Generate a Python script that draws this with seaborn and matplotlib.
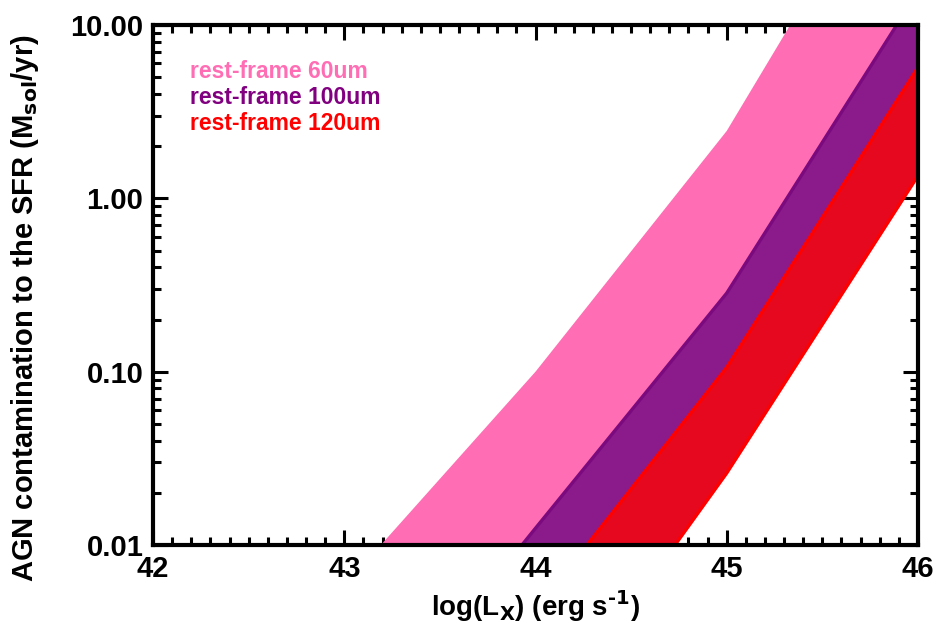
import numpy as np
import pandas as pd
import matplotlib
matplotlib.use("Agg")
import matplotlib.pyplot as plt
import seaborn as sns
from matplotlib.ticker import FixedLocator, LogLocator, NullFormatter, MultipleLocator

# log(L_X) grid and AGN contamination bounds (Msol/yr) for each rest-frame band
log_lx = [43.0, 44.0, 45.0, 46.0]
sfr_60_hi = [0.0058, 0.10, 2.45, 170.0]
sfr_60_lo = [0.00054, 0.0125, 0.284, 15.6]
sfr_100_hi = [0.00054, 0.0125, 0.284, 15.6]
sfr_100_lo = [0.00016, 0.0042, 0.106, 5.7]
sfr_120_hi = [0.00016, 0.0042, 0.106, 5.7]
sfr_120_lo = [0.00002, 0.00076, 0.026, 1.35]

band_labels = ["rest-frame 60um", "rest-frame 100um", "rest-frame 120um"]
y_ticks = [0.01, 0.1, 1.0, 10.0]
y_ticklabels = ["0.01", "0.10", "1.00", "10.00"]
x_ticks = [42, 43, 44, 45, 46]

sns.set_theme(style="ticks")
plt.rcParams["font.family"] = ["Liberation Sans", "DejaVu Sans"]
plt.rcParams["font.weight"] = "bold"
plt.rcParams["mathtext.default"] = "bf"
for key in ["text.color", "axes.labelcolor", "xtick.color", "ytick.color", "axes.edgecolor"]:
    plt.rcParams[key] = "black"

fig = plt.figure(figsize=(9.39, 6.26), dpi=100)
ax = fig.add_axes([0.163, 0.1294, 0.8146, 0.8306])

pink = "#FF6EB4"
purple_fill = "#8B1A8B"
purple_edge = "#7A0A7E"
red_fill = "#E6081E"
red_edge = "#FF0000"

ax.fill_between(log_lx, sfr_60_lo, sfr_60_hi, color=pink, lw=0, zorder=1)
ax.fill_between(log_lx, sfr_100_lo, sfr_100_hi, color=purple_fill, lw=0, zorder=2)
ax.fill_between(log_lx, sfr_120_lo, sfr_120_hi, color=red_fill, lw=0, zorder=3)

edges = pd.DataFrame({
    "x": log_lx * 3,
    "y": sfr_100_hi + sfr_120_hi + sfr_120_lo,
    "edge": ["p_hi"] * 4 + ["r_hi"] * 4 + ["r_lo"] * 4,
})
sns.lineplot(data=edges, x="x", y="y", hue="edge",
             palette={"p_hi": purple_edge, "r_hi": red_edge, "r_lo": red_edge},
             linewidth=2.4, legend=False, ax=ax, zorder=4)

ax.set_yscale("log")
ax.set_xlim(42, 46)
ax.set_ylim(0.01, 10)

ax.xaxis.set_major_locator(FixedLocator(x_ticks))
ax.xaxis.set_minor_locator(MultipleLocator(0.1))
ax.set_xticklabels([str(t) for t in x_ticks])
ax.yaxis.set_major_locator(FixedLocator(y_ticks))
ax.yaxis.set_minor_locator(LogLocator(base=10, subs=np.arange(2, 10)))
ax.yaxis.set_minor_formatter(NullFormatter())
ax.set_yticklabels(y_ticklabels)

ax.tick_params(which="both", direction="in", top=True, right=True, color="black")
ax.tick_params(which="major", length=11, width=2.2, labelsize=21, pad=7)
ax.tick_params(which="minor", length=6, width=2.2)
for lab in ax.get_xticklabels() + ax.get_yticklabels():
    lab.set_fontweight("bold")
for sp in ax.spines.values():
    sp.set_linewidth(3)
    sp.set_color("black")
    sp.set_zorder(10)

ax.set_xlabel(r"log(L$_\mathbf{X}$) (erg s$^{\text{-1}}$)", fontsize=20, fontweight="bold", labelpad=4)
ax.set_ylabel(r"AGN contamination to the SFR (M$_\mathbf{sol}$/yr)", fontsize=21, fontweight="bold")
ax.yaxis.set_label_coords(-0.147, 0.455)

for i, (lab, col) in enumerate(zip(band_labels, [pink, "#800080", red_edge])):
    ax.text(0.048, 0.91 - i * 0.05, lab, color=col, fontsize=16.5, fontweight="bold",
            transform=ax.transAxes, va="center", ha="left")

fig.savefig("out.png", dpi=100)
